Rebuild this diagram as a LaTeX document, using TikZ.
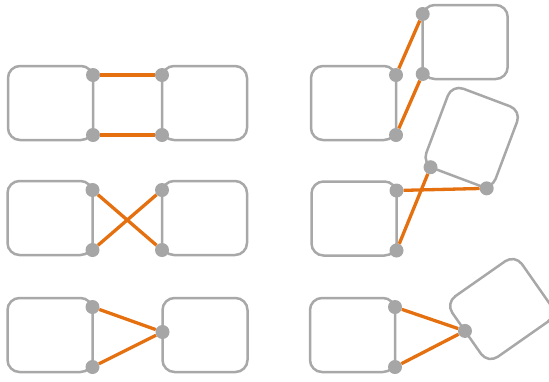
\documentclass[tikz,border=0pt]{standalone}
\definecolor{boxgray}{RGB}{168,168,168}
\definecolor{dotgray}{RGB}{166,166,166}
\definecolor{linkorange}{RGB}{229,112,16}
\tikzset{
  box/.style={draw=boxgray, line width=2.5pt, rounded corners=12pt,
    minimum width=85pt, minimum height=74pt, inner sep=0pt},
  dot/.style={circle, fill=dotgray, inner sep=0pt, minimum size=14pt},
  link/.style={draw=linkorange, line width=3.3pt},
}
\begin{document}
\begin{tikzpicture}[x=1pt, y=-1pt]
\useasboundingbox (0,0) rectangle (549,381);
% ---------- left column ----------
% row 1
\node[box] (A) at (50.5,103) {};
\node[box] (B) at (204.5,103) {};
% row 2
\node[box] (C) at (50,218) {};
\node[box] (D) at (204.5,218) {};
% row 3
\node[box] (E) at (50,335) {};
\node[box] (F) at (205,335) {};
% ---------- right column ----------
\node[box] (G) at (353.5,103) {};
\node[box] (H) at (465.2,42) {};
\node[box] (I) at (354,218.5) {};
\begin{scope}[shift={(471.7,137.3)}, rotate=69.4]
  \node[box, transform shape] (J) at (0,0) {};
  \coordinate (j1pos) at (-42.5,-28);
  \coordinate (j2pos) at (-42.5,32);
\end{scope}
\node[box] (K) at (352.5,335) {};
\begin{scope}[shift={(501.5,309)}, rotate=35]
  \node[box, transform shape] (L) at (0,0) {};
  \coordinate (lpos) at (-42.5,-3);
\end{scope}
% ---------- dots ----------
\node[dot] (a1) at (93,75) {};
\node[dot] (a2) at (93,135) {};
\node[dot] (b1) at (162,75) {};
\node[dot] (b2) at (162,135) {};
\node[dot] (c1) at (92.5,190) {};
\node[dot] (c2) at (92.5,250) {};
\node[dot] (d1) at (162,190) {};
\node[dot] (d2) at (162,250) {};
\node[dot] (e1) at (92.5,307) {};
\node[dot] (e2) at (92.5,367) {};
\node[dot] (f)  at (162.5,332) {};
\node[dot] (g1) at (396,75) {};
\node[dot] (g2) at (396,135) {};
\node[dot] (h1) at (422.7,14) {};
\node[dot] (h2) at (422.7,74) {};
\node[dot] (i1) at (396.5,190.5) {};
\node[dot] (i2) at (396.5,250.5) {};
\node[dot] (j1) at (j1pos) {};
\node[dot] (j2) at (j2pos) {};
\node[dot] (k1) at (395,307) {};
\node[dot] (k2) at (395,367) {};
\node[dot] (l)  at (lpos) {};
% ---------- links ----------
\draw[link] (a1) -- (b1);
\draw[link] (a2) -- (b2);
\draw[link] (c1) -- (d2);
\draw[link] (c2) -- (d1);
\draw[link] (e1) -- (f);
\draw[link] (e2) -- (f);
\draw[link] (g1) -- (h1);
\draw[link] (g2) -- (h2);
\draw[link] (i1) -- (j2);
\draw[link] (i2) -- (j1);
\draw[link] (k1) -- (l);
\draw[link] (k2) -- (l);
\end{tikzpicture}
\end{document}
